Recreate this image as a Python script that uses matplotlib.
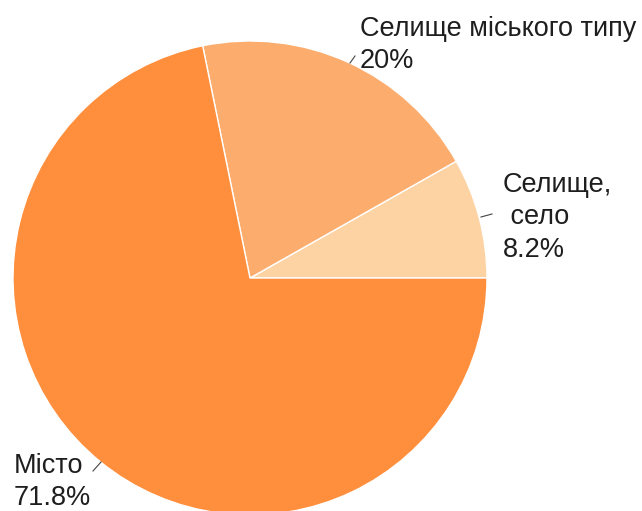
import matplotlib.pyplot as plt

# ---------------- data ----------------
categories = ["Селище,\n село", "Селище міського типу", "Місто"]
shares = [8.2, 20.0, 71.8]
share_labels = ["8.2%", "20%", "71.8%"]
colors = ["#FDD3A3", "#FCAC6C", "#FF8F3D"]

plt.rcParams['font.family'] = ['Liberation Sans', 'DejaVu Sans']

fig = plt.figure(figsize=(6.42, 5.11), dpi=100)
ax = fig.add_axes([0, 0, 1, 1])

# pie in pixel coordinates (y up)
cx, cy, r = 250, 233, 237
ax.pie(shares, colors=colors, startangle=0, counterclock=True,
       center=(cx, cy), radius=r, frame=True,
       wedgeprops=dict(edgecolor='white', linewidth=1.0))
ax.set_xlim(0, 642)
ax.set_ylim(0, 511)
ax.set_aspect('equal')
ax.axis('off')

txt = dict(fontsize=19.5, color='#1e1e1e', va='top', ha='left', linespacing=1.32)

# labels
ax.text(360, 511 - 16, categories[1] + "\n" + share_labels[1], **txt)
ax.plot([350, 355], [511 - 63, 511 - 56], color='#444444', lw=0.8)

ax.text(503, 511 - 172, categories[0] + "\n" + share_labels[0], **txt)
ax.plot([481, 492], [511 - 217, 511 - 214], color='#444444', lw=0.8)

ax.text(14, 511 - 453, categories[2] + "\n" + share_labels[2],
        **{**txt, 'linespacing': 1.28})
ax.plot([93, 101], [511 - 471, 511 - 462], color='#444444', lw=0.8)

fig.savefig("out.png", dpi=100)
